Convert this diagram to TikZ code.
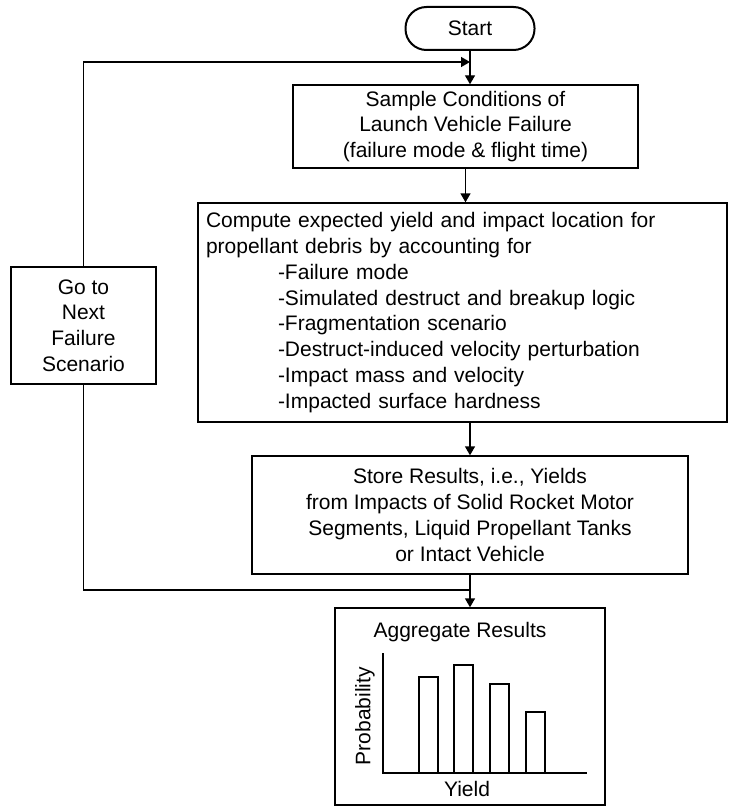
\documentclass[tikz,border=0pt]{standalone}
\usepackage{fontspec}
\setmainfont{Liberation Sans}
\usepackage{tikz}
\usetikzlibrary{arrows.meta,positioning}

\begin{document}
\begin{tikzpicture}[
    x=0.5pt, y=-0.5pt,
    every node/.style={font=\fontsize{10.5}{12.9}\selectfont},
    box/.style={draw, line width=0.7pt, align=center, inner sep=2pt},
    startbox/.style={draw, line width=1pt, rounded corners=10.5pt, minimum width=64.5pt, minimum height=21.5pt},
    bar/.style={draw, line width=1pt},
    arrow/.style={-{Triangle[length=4.5pt,width=5pt]}, line width=0.7pt},
    line/.style={line width=0.7pt}
  ]
    \useasboundingbox (0,0) rectangle (729,808);

    % Start
    \node[startbox] (start) at (470,28.5) {Start};

    % Muestreo
    \node[box, minimum width=172.5pt, minimum height=41.5pt] (sample) at (465.5,126.5) {Sample Conditions of\\
      Launch Vehicle Failure\\
      (failure mode \& flight time)
    };

    % Calculo
    \node[box, align=left, inner xsep=4pt, text width=256.5pt, minimum height=109.5pt] (compute) at (462.5,312.5) {Compute expected yield and impact location for\\
      propellant debris by accounting for\\
      \hspace*{36pt}-Failure mode\\
      \hspace*{36pt}-Simulated destruct and breakup logic\\
      \hspace*{36pt}-Fragmentation scenario\\
      \hspace*{36pt}-Destruct-induced velocity perturbation\\
      \hspace*{36pt}-Impact mass and velocity\\
      \hspace*{36pt}-Impacted surface hardness
    };

    % Resultados
    \node[box, minimum width=218pt, minimum height=59pt] (store) at (470,515) {Store Results, i.e., Yields\\
      from Impacts of Solid Rocket Motor\\
      Segments, Liquid Propellant Tanks\\
      or Intact Vehicle
    };

    % Agregado
    \node[box, minimum width=135pt, minimum height=98.5pt] (agg) at (470,706.5) {};
    \node (aggtitle) at (460,632) {Aggregate Results};
    \node[rotate=90] (prob) at (365,716) {Probability};
    \node (yield) at (467,789) {Yield};
    \draw[line] (383,653) -- (383,773) -- (587,773);
    \draw[bar] (419,773) rectangle (438,677);
    \draw[bar] (454,773) rectangle (473,665);
    \draw[bar] (490,773) rectangle (509,684);
    \draw[bar] (526,773) rectangle (545,712);

    % Siguiente escenario
    \node[box, minimum width=72.5pt, minimum height=58.5pt] (next) at (83.5,325.5) {Go to\\
      Next\\
      Failure\\
      Scenario
    };

    \coordinate (merge) at (470,62);
    \coordinate (join) at (470,590);

    % Arrows
    \draw[arrow] (start.south) -- (sample.north -| start.south);
    \draw[arrow] (sample.south) -- (compute.north -| sample.south);
    \draw[arrow] (compute.south -| store.north) -- (store.north);
    \draw[arrow] (store.south) -- (agg.north);
    \draw[line] (next.south) |- (join);
    \draw[arrow] (next.north) |- (merge);
  \end{tikzpicture}
\end{document}
